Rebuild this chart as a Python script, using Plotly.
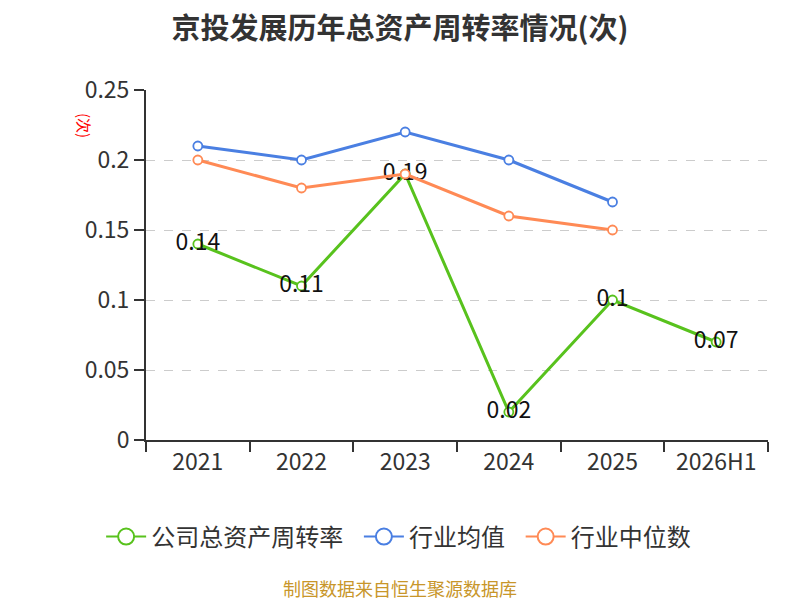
import plotly.graph_objects as go

# data
years = ["2021", "2022", "2023", "2024", "2025", "2026H1"]
company = [0.14, 0.11, 0.19, 0.02, 0.10, 0.07]
industry_avg = [0.21, 0.20, 0.22, 0.20, 0.17]
industry_median = [0.20, 0.18, 0.19, 0.16, 0.15]
company_labels = ["0.14", "0.11", "0.19", "0.02", "0.1", "0.07"]

series = [
    ("公司总资产周转率", years, company, "#58c21d", company_labels),
    ("行业均值", years[:5], industry_avg, "#4a7fe2", None),
    ("行业中位数", years[:5], industry_median, "#ff8a55", None),
]

font_family = "Noto Sans CJK SC"

fig = go.Figure()

for name, xs, ys, color, labels in series:
    fig.add_trace(go.Scatter(
        x=xs, y=ys, name=name, showlegend=False,
        mode="lines+markers+text" if labels else "lines+markers",
        text=labels, textposition="middle center",
        textfont=dict(size=23, color="#111111"),
        line=dict(color=color, width=3),
        marker=dict(symbol="circle", size=9, color="white",
                    line=dict(color=color, width=1.8)),
    ))

# legend-only entries with bigger symbols, like the original
for name, xs, ys, color, labels in series:
    fig.add_trace(go.Scatter(
        x=[None], y=[None], name=name + "\u00a0\u00a0", mode="lines+markers",
        line=dict(color=color, width=2),
        marker=dict(symbol="circle", size=16, color="white",
                    line=dict(color=color, width=2)),
    ))

fig.update_layout(
    width=800, height=600,
    margin=dict(l=138, r=40, t=82, b=168),
    paper_bgcolor="white", plot_bgcolor="white",
    font=dict(family=font_family, color="#333333"),
    title=dict(text="<b>京投发展历年总资产周转率情况(次)</b>",
               x=0.49, xanchor="center", y=0.966, yanchor="middle",
               font=dict(size=29, color="#333333")),
    showlegend=True,
    legend=dict(orientation="h", x=0.415, xanchor="center",
                y=-0.277, yanchor="middle",
                font=dict(size=24, color="#333333"),
                traceorder="normal", itemwidth=40),
    xaxis=dict(
        type="category", range=[-0.5, 5.5],
        tickson="boundaries", ticks="outside", ticklen=10,
        tickcolor="#333333", tickwidth=2,
        showline=True, linecolor="#333333", linewidth=2,
        showgrid=False, tickfont=dict(size=23, color="#333333"),
        automargin=False,
    ),
    yaxis=dict(
        range=[0, 0.25], dtick=0.05,
        ticks="outside", ticklen=10, tickcolor="#333333", tickwidth=2,
        showline=True, linecolor="#333333", linewidth=2,
        showgrid=True, gridcolor="#cccccc", griddash="dash", gridwidth=1,
        zeroline=False, tickfont=dict(size=23, color="#333333"),
        automargin=False,
    ),
)

fig.add_annotation(text="(次)", textangle=90, xref="paper", yref="paper",
                   x=-0.098, y=0.9, xanchor="center", yanchor="middle",
                   showarrow=False, font=dict(size=15, color="#ff0000"))
fig.add_annotation(text="制图数据来自恒生聚源数据库", xref="paper", yref="paper",
                   x=0.408, y=-0.422, xanchor="center", yanchor="middle",
                   showarrow=False, font=dict(size=18, color="#c8962a"))

fig.write_html("out.html")
